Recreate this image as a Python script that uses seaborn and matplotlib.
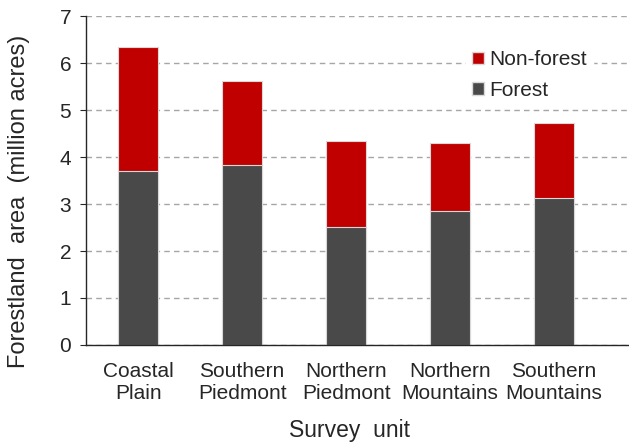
import numpy as np
import pandas as pd
import matplotlib
matplotlib.use("Agg")
import matplotlib.pyplot as plt
import seaborn as sns
from matplotlib.patches import Patch

# Data (million acres)
units = ["Coastal\nPlain", "Southern\nPiedmont", "Northern\nPiedmont",
         "Northern\nMountains", "Southern\nMountains"]
forest = [3.70, 3.83, 2.52, 2.85, 3.13]
total = [6.34, 5.62, 4.35, 4.29, 4.73]

red = "#C00000"
grey = "#494949"

sns.set_style("white")
plt.rcParams['font.family'] = ['Liberation Sans', 'DejaVu Sans']

df = pd.DataFrame({"unit": units, "forest": forest, "total": total})

fig = plt.figure(figsize=(6.29, 4.46), dpi=100)
ax = fig.add_axes([0.137, 0.2265, 0.863, 0.7375])

# total bar in red, forest part drawn over it in grey
sns.barplot(data=df, x="unit", y="total", color=red, width=0.385,
            saturation=1, edgecolor="#d9d9d9", linewidth=0.8, ax=ax)
sns.barplot(data=df, x="unit", y="forest", color=grey, width=0.385,
            saturation=1, edgecolor="#d9d9d9", linewidth=0.8, ax=ax)

ax.set_ylim(0, 7)
ax.set_xlim(-0.5, 4.72)
ax.set_yticks(range(0, 8))
ax.yaxis.grid(True, linestyle=(0, (4, 3)), color="#a6a6a6", linewidth=1)
ax.set_axisbelow(True)

for s in ["top", "right"]:
    ax.spines[s].set_visible(False)
for s in ["left", "bottom"]:
    ax.spines[s].set_color("#262626")
    ax.spines[s].set_linewidth(1)

ax.tick_params(axis="x", which="major", length=0, pad=12, labelsize=15, colors="#262626")
ax.set_xticks(np.arange(-0.5, 5.0, 1.0), minor=True)
ax.tick_params(axis="x", which="minor", length=5, direction="out", color="#262626")
ax.tick_params(axis="y", length=4.3, direction="out", color="#262626", labelsize=15,
               labelcolor="#262626", left=True, pad=6.5)

ax.set_xlabel("Survey  unit", fontsize=16.5)
ax.set_ylabel("Forestland  area  (million acres)", fontsize=17)
ax.xaxis.set_label_coords(0.486, -0.225)
ax.yaxis.set_label_coords(-0.103, 0.438)

handles = [Patch(facecolor=red, edgecolor="#d9d9d9", label="Non-forest"),
           Patch(facecolor=grey, edgecolor="#d9d9d9", label="Forest")]
leg = ax.legend(handles=handles, loc="upper left",
                bbox_to_anchor=(466 / 629, 1 - 44 / 446), bbox_transform=fig.transFigure,
                borderaxespad=0, frameon=True, fontsize=15, handlelength=0.55,
                handleheight=0.55, handletextpad=0.25, labelspacing=0.55, borderpad=0.3)
leg.get_frame().set_facecolor("white")
leg.get_frame().set_edgecolor("white")
leg.get_frame().set_alpha(1)
leg.get_frame().set_boxstyle("square", pad=0)

fig.savefig("out.png", dpi=100)
